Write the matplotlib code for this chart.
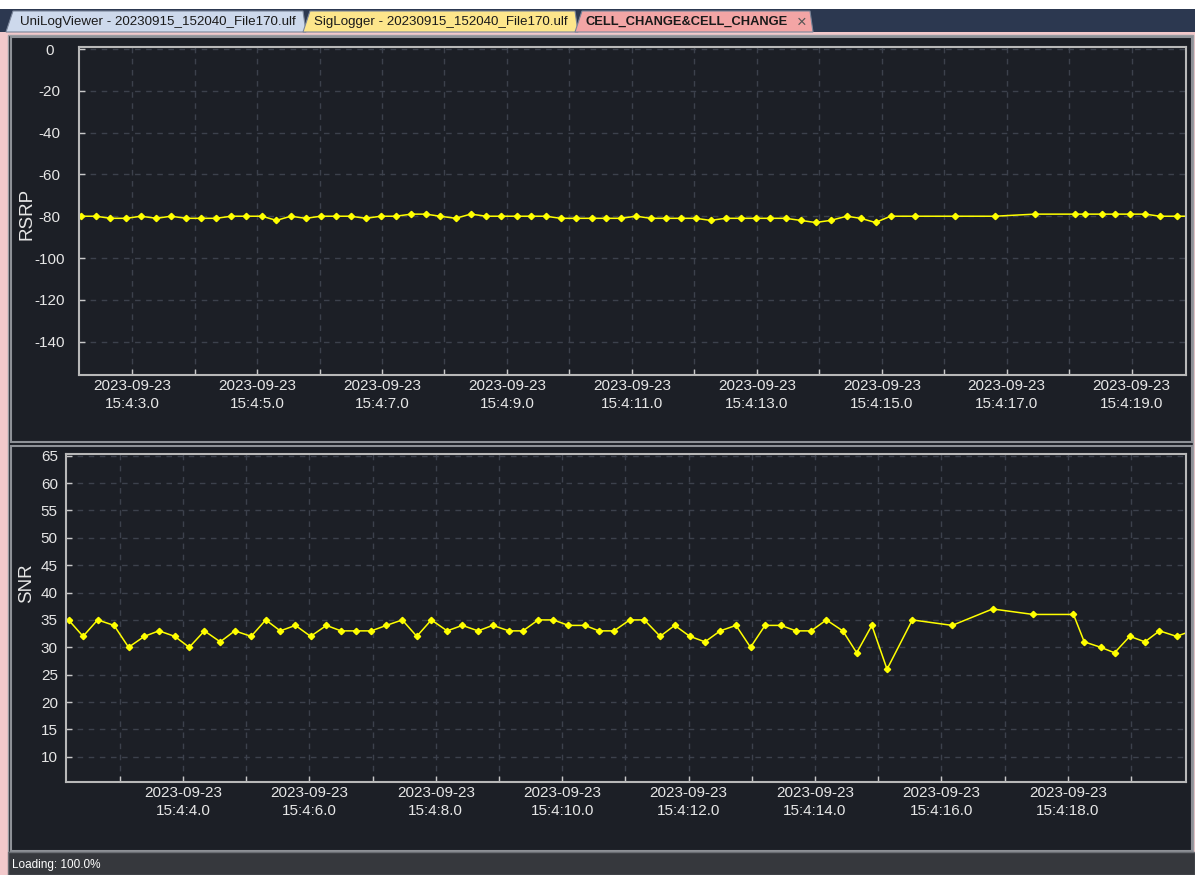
import matplotlib
matplotlib.use("Agg")
import matplotlib.pyplot as plt
from matplotlib.patches import Rectangle, Polygon
from matplotlib.ticker import MultipleLocator, FuncFormatter

plt.rcParams['font.family'] = ['Liberation Sans', 'DejaVu Sans']
plt.rcParams['axes.unicode_minus'] = False

# sample times in seconds after 2023-09-23 15:04:00
times = [2.19, 2.42, 2.65, 2.91, 3.14, 3.39, 3.62, 3.87, 4.10, 4.34,
         4.59, 4.82, 5.08, 5.31, 5.54, 5.78, 6.02, 6.27, 6.50, 6.74,
         6.98, 7.22, 7.47, 7.70, 7.93, 8.18, 8.42, 8.67, 8.90, 9.16,
         9.38, 9.62, 9.86, 10.10, 10.36, 10.58, 10.82, 11.07, 11.30, 11.55,
         11.78, 12.02, 12.26, 12.50, 12.75, 12.98, 13.21, 13.46, 13.70, 13.94,
         14.18, 14.44, 14.66, 14.90, 15.14, 15.54, 16.17, 16.81, 17.45, 18.09,
         18.26, 18.52, 18.74, 18.98, 19.22, 19.45, 19.72, 19.96]

rsrp = [-80, -80, -81, -81, -80, -81, -80, -81, -81, -81,
        -80, -80, -80, -82, -80, -81, -80, -80, -80, -81,
        -80, -80, -79, -79, -80, -81, -79, -80, -80, -80,
        -80, -80, -81, -81, -81, -81, -81, -80, -81, -81,
        -81, -81, -82, -81, -81, -81, -81, -81, -82, -83,
        -82, -80, -81, -83, -80, -80, -80, -80, -79, -79,
        -79, -79, -79, -79, -79, -80, -80, -80]

snr = [35, 32, 35, 34, 30, 32, 33, 32, 30, 33,
       31, 33, 32, 35, 33, 34, 32, 34, 33, 33,
       33, 34, 35, 32, 35, 33, 34, 33, 34, 33,
       33, 35, 35, 34, 34, 33, 33, 35, 35, 32,
       34, 32, 31, 33, 34, 30, 34, 34, 33, 33,
       35, 33, 29, 34, 26, 35, 34, 37, 36, 36,
       31, 30, 29, 32, 31, 33, 32, 33]

date_str = "2023-09-23"
rsrp_ticks = [-140, -120, -100, -80, -60, -40, -20, 0]
snr_ticks = [10, 15, 20, 25, 30, 35, 40, 45, 50, 55, 60, 65]
tab_titles = ["UniLogViewer - 20230915_152040_File170.ulf",
              "SigLogger - 20230915_152040_File170.ulf",
              "CELL_CHANGE&CELL_CHANGE"]
tab_colors = ["#cdd9ec", "#fde68b", "#f3a5a5"]
status_text = "Loading: 100.0%"

W, H = 1195, 875
BG = "#1c1f26"
fig = plt.figure(figsize=(W / 100, H / 100), dpi=100, facecolor="white")


def box(x0, y0, x1, y1, z=-10, **kw):
    # pixel box, origin at top left, kept behind the axes
    r = Rectangle((x0 / W, 1 - y1 / H), (x1 - x0) / W, (y1 - y0) / H,
                  transform=fig.transFigure, zorder=z, **kw)
    fig.add_artist(r)


def ftext(x, y, s, **kw):
    fig.text(x / W, 1 - y / H, s, **kw)


# tab strip
box(0, 9, W, 33, fc="#2c3850", lw=0)
tab_x = [(6, 306), (303, 578), (575, 813)]
for (x0, x1), c in zip(tab_x, tab_colors):
    pts = [(x0, 32), (x0 + 7, 11), (x1 - 3, 11), (x1, 32)]
    fig.add_artist(Polygon([(px / W, 1 - py / H) for px, py in pts], closed=True,
                           transform=fig.transFigure, fc=c, ec="#7a8599", lw=0.8,
                           zorder=-9))
ftext(20, 21.5, tab_titles[0], fontsize=9.6, color="#1a1a1a", va="center")
ftext(314, 21.5, tab_titles[1], fontsize=9.6, color="#1a1a1a", va="center")
ftext(585, 21.5, tab_titles[2], fontsize=9.3, color="#1a1a1a", va="center", fontweight="bold")
ftext(802, 22, "\u00d7", fontsize=12, color="#555555", va="center", ha="center")

# content frame
box(0, 32, W, H, fc="#f2c9cb", lw=0)
box(8, 35, 1193, 852, fc=BG, ec="#9a9da3", lw=1)
box(11, 37, 1192, 442, fc=BG, ec="#8e9197", lw=1.5)
box(11, 446, 1192, 851, fc=BG, ec="#8e9197", lw=1.5)

# status bar
box(8, 852, W, H, fc="#36383d", ec="#6a6d73", lw=1)
ftext(12, 865, status_text, fontsize=8.5, color="white", va="center")

ax1 = fig.add_axes([79 / W, 1 - 375 / H, 1107 / W, 328 / H])
ax2 = fig.add_axes([66 / W, 1 - 782 / H, 1120 / W, 328 / H])


def time_fmt(parity):
    def f(t, pos):
        if int(round(t)) % 2 == parity:
            return f"{date_str}\n15:4:{t:.1f}"
        return ""
    return f


for ax, vals, ticks, ylim, parity, ypad in [
        (ax1, rsrp, rsrp_ticks, (-156, 1), 1, 21.5),
        (ax2, snr, snr_ticks, (5.4, 65.3), 0, 12)]:
    ax.set_facecolor(BG)
    ax.plot(times, vals, color="#ffff00", lw=1.1, marker="D", ms=3.2,
            mec="#ffff00", mfc="#ffff00")
    ax.set_xlim(2.15, 19.87)
    ax.set_ylim(*ylim)
    ax.set_yticks(ticks)
    ax.xaxis.set_major_locator(MultipleLocator(1))
    ax.xaxis.set_major_formatter(FuncFormatter(time_fmt(parity)))
    ax.tick_params(axis="both", direction="in", length=4, width=1,
                   color="#c8c8c8", labelcolor="#e6e6e6", labelsize=11)
    ax.tick_params(axis="y", pad=ypad)
    ax.tick_params(axis="x", pad=3)
    plt.setp(ax.get_yticklabels(), ha="center")
    for lab in ax.get_xticklabels():
        lab.set_linespacing(1.35)
    ax.grid(True, color="#3c414c", linestyle=(0, (4, 4)), linewidth=1)
    for sp in ax.spines.values():
        sp.set_color("#b8b8b8")
        sp.set_linewidth(1.5)

ftext(27, 214, "RSRP", fontsize=13.5, color="#e6e6e6", rotation=90, ha="center", va="center")
ftext(27, 583, "SNR", fontsize=13.5, color="#e6e6e6", rotation=90, ha="center", va="center")

fig.savefig("out.png", dpi=100, facecolor=fig.get_facecolor())
